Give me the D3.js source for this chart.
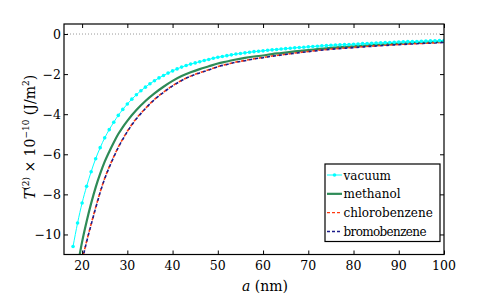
<!DOCTYPE html>
<html><head><meta charset="utf-8">
<script src="https://cdn.jsdelivr.net/npm/d3@7"></script>
<style>
body{margin:0;background:#fff;}
</style></head>
<body><svg id="c" width="491" height="298"></svg>
<script>
// ---- data ----
const seriesNames = ["vacuum","methanol","chlorobenzene","bromobenzene"];
const vacuumA = [18,19,20,21,22,23,24,25,26,27,28,29,30,31,32,33,34,35,36,37,38,39,40,41,42,43,44,45,46,47,48,49,50,51,52,53,54,55,56,57,58,59,60,61,62,63,64,65,66,67,68,69,70,71,72,73,74,75,76,77,78,79,80,81,82,83,84,85,86,87,88,89,90,91,92,93,94,95,96,97,98,99,100];
const vacuumV = [-10.60,-9.43,-8.43,-7.60,-6.87,-6.22,-5.67,-5.18,-4.77,-4.40,-4.06,-3.76,-3.49,-3.25,-3.03,-2.83,-2.65,-2.48,-2.33,-2.19,-2.07,-1.95,-1.84,-1.74,-1.65,-1.57,-1.50,-1.44,-1.38,-1.32,-1.27,-1.21,-1.16,-1.12,-1.08,-1.04,-1.00,-0.97,-0.94,-0.91,-0.88,-0.86,-0.84,-0.81,-0.79,-0.77,-0.75,-0.73,-0.71,-0.69,-0.67,-0.66,-0.64,-0.62,-0.61,-0.59,-0.58,-0.56,-0.55,-0.54,-0.53,-0.52,-0.51,-0.50,-0.48,-0.47,-0.46,-0.45,-0.44,-0.43,-0.42,-0.41,-0.40,-0.39,-0.38,-0.38,-0.37,-0.36,-0.35,-0.34,-0.34,-0.33,-0.32];
const lineA = [19,20,21,22,23,24,25,26,27,28,29,30,32,34,36,38,40,42,44,46,48,50,52,54,56,58,60,62,64,67,70,75,80,85,90,95,100];
const methanolV = [-11.60,-10.37,-9.35,-8.45,-7.65,-6.97,-6.37,-5.87,-5.41,-4.99,-4.64,-4.33,-3.79,-3.34,-2.96,-2.63,-2.34,-2.10,-1.91,-1.75,-1.61,-1.47,-1.37,-1.27,-1.19,-1.12,-1.07,-1.00,-0.95,-0.87,-0.80,-0.69,-0.62,-0.545,-0.48,-0.43,-0.38];
const chloroV = [-12.50,-11.30,-10.34,-9.48,-8.65,-7.88,-7.20,-6.63,-6.12,-5.64,-5.23,-4.85,-4.21,-3.71,-3.26,-2.90,-2.58,-2.31,-2.10,-1.93,-1.78,-1.62,-1.51,-1.40,-1.32,-1.23,-1.17,-1.10,-1.04,-0.95,-0.87,-0.75,-0.67,-0.59,-0.52,-0.47,-0.42];
const bromoV = [-12.55,-11.34,-10.37,-9.51,-8.68,-7.90,-7.22,-6.65,-6.14,-5.66,-5.25,-4.87,-4.23,-3.72,-3.27,-2.91,-2.59,-2.32,-2.11,-1.94,-1.79,-1.63,-1.52,-1.41,-1.33,-1.24,-1.18,-1.11,-1.05,-0.96,-0.88,-0.76,-0.68,-0.60,-0.53,-0.47,-0.42];
const xTicks = [20,30,40,50,60,70,80,90,100];
const yTicks = [0,-2,-4,-6,-8,-10];

// ---- layout ----
const svg = d3.select("#c");
const L=64, R=444, T=24, B=254.5;
const x = d3.scaleLinear().domain([16,100]).range([L,R]);
const y = d3.scaleLinear().domain([-11,0.5]).range([B,T]);
const FF = "DejaVu Serif";

svg.append("defs").append("clipPath").attr("id","clip")
  .append("rect").attr("x",L).attr("y",T).attr("width",R-L).attr("height",B-T);

// zero line
svg.append("line").attr("x1",L).attr("x2",R).attr("y1",y(0)).attr("y2",y(0))
  .attr("stroke","#999").attr("stroke-width",1).attr("stroke-dasharray","1,2");

const g = svg.append("g").attr("clip-path","url(#clip)");
const line = d3.line().x(d=>x(d[0])).y(d=>y(d[1])).curve(d3.curveMonotoneX);

const vac = vacuumA.map((a,i)=>[a,vacuumV[i]]);
const meth = lineA.map((a,i)=>[a,methanolV[i]]);
const chl = lineA.map((a,i)=>[a,chloroV[i]]);
const bro = lineA.map((a,i)=>[a,bromoV[i]]);

const colors = {vacuum:"#00ffff", methanol:"#2e8b57", chlorobenzene:"#ff3a10", bromobenzene:"#1c1c8a"};

g.append("path").datum(meth).attr("d",line).attr("fill","none")
  .attr("stroke",colors.methanol).attr("stroke-width",2.2);
g.append("path").datum(chl).attr("d",line).attr("fill","none")
  .attr("stroke",colors.chlorobenzene).attr("stroke-width",1.6).attr("stroke-dasharray","3,3");
g.append("path").datum(bro).attr("d",line).attr("fill","none")
  .attr("stroke",colors.bromobenzene).attr("stroke-width",1.6).attr("stroke-dasharray","3,3").attr("stroke-dashoffset",3);
g.append("path").datum(vac).attr("d",line).attr("fill","none")
  .attr("stroke",colors.vacuum).attr("stroke-width",1);
g.selectAll("circle.v").data(vac).enter().append("circle")
  .attr("cx",d=>x(d[0])).attr("cy",d=>y(d[1])).attr("r",1.8).attr("fill",colors.vacuum);

// frame
svg.append("rect").attr("x",L).attr("y",T).attr("width",R-L).attr("height",B-T)
  .attr("fill","none").attr("stroke","#000").attr("stroke-width",1.2);

// axes ticks (inward) with library axes
const xb = svg.append("g").attr("transform",`translate(0,${B})`)
  .call(d3.axisTop(x).tickValues(xTicks).tickSize(4).tickFormat(""));
const xt = svg.append("g").attr("transform",`translate(0,${T})`)
  .call(d3.axisBottom(x).tickValues(xTicks).tickSize(4).tickFormat(""));
const yl = svg.append("g").attr("transform",`translate(${L},0)`)
  .call(d3.axisRight(y).tickValues(yTicks).tickSize(4).tickFormat(""));
const yr = svg.append("g").attr("transform",`translate(${R},0)`)
  .call(d3.axisLeft(y).tickValues(yTicks).tickSize(4).tickFormat(""));
[xb,xt,yl,yr].forEach(a=>{a.select(".domain").remove(); a.selectAll("line").attr("stroke","#000");});

// tick labels
svg.selectAll("text.xl").data(xTicks).enter().append("text")
  .style("font-family",FF)
  .attr("x",d=>x(d)).attr("y",269.5).attr("text-anchor","middle")
  .attr("font-size",12.5).text(d=>d);
svg.selectAll("text.yl").data(yTicks).enter().append("text")
  .style("font-family",FF)
  .attr("x",L-3).attr("y",d=>y(d)+4.5).attr("text-anchor","end")
  .attr("font-size",12.5).text(d=>d===0?"0":"\u2212"+Math.abs(d));

// axis titles
const xtitle = svg.append("text").style("font-family",FF).attr("x",265).attr("y",291).attr("text-anchor","middle").attr("font-size",14);
xtitle.append("tspan").attr("font-style","italic").text("a");
xtitle.append("tspan").text(" (nm)");

const yt = svg.append("text").style("font-family",FF).attr("transform","translate(35,137) rotate(-90)")
  .attr("text-anchor","middle").attr("font-size",14);
yt.append("tspan").attr("font-style","italic").text("T");
yt.append("tspan").attr("font-size",9).attr("dy",-6).text("(2)");
yt.append("tspan").attr("dy",6).text(" \u00d7 10");
yt.append("tspan").attr("font-size",9).attr("dy",-6).text("\u221210");
yt.append("tspan").attr("dy",6).text(" (J/m");
yt.append("tspan").attr("font-size",9).attr("dy",-6).text("2");
yt.append("tspan").attr("dy",6).text(")");

// legend
const lg = svg.append("g");
lg.append("rect").attr("x",325).attr("y",164).attr("width",115).attr("height",77.5)
  .attr("fill","#fff").attr("stroke","#000").attr("stroke-width",1.2);
const ly = d3.scalePoint().domain(seriesNames).range([175,231.5]);
seriesNames.forEach(n=>{
  const yy = ly(n);
  const ln = lg.append("line").attr("x1",327).attr("x2",342).attr("y1",yy).attr("y2",yy)
    .attr("stroke",colors[n]);
  if(n==="vacuum"){ln.attr("stroke-width",1); lg.append("circle").attr("cx",334.5).attr("cy",yy).attr("r",1.8).attr("fill",colors[n]);}
  if(n==="methanol") ln.attr("stroke-width",2.2);
  if(n==="chlorobenzene") ln.attr("stroke-width",1.4).attr("stroke-dasharray","3,2");
  if(n==="bromobenzene") ln.attr("stroke-width",1.4).attr("stroke-dasharray","3,2");
  lg.append("text").style("font-family",FF).attr("x",343.5).attr("y",yy+4.5)
    .attr("font-size",12).attr("textLength", n==="bromobenzene"?83:null)
    .text(n);
});
</script></body></html>
